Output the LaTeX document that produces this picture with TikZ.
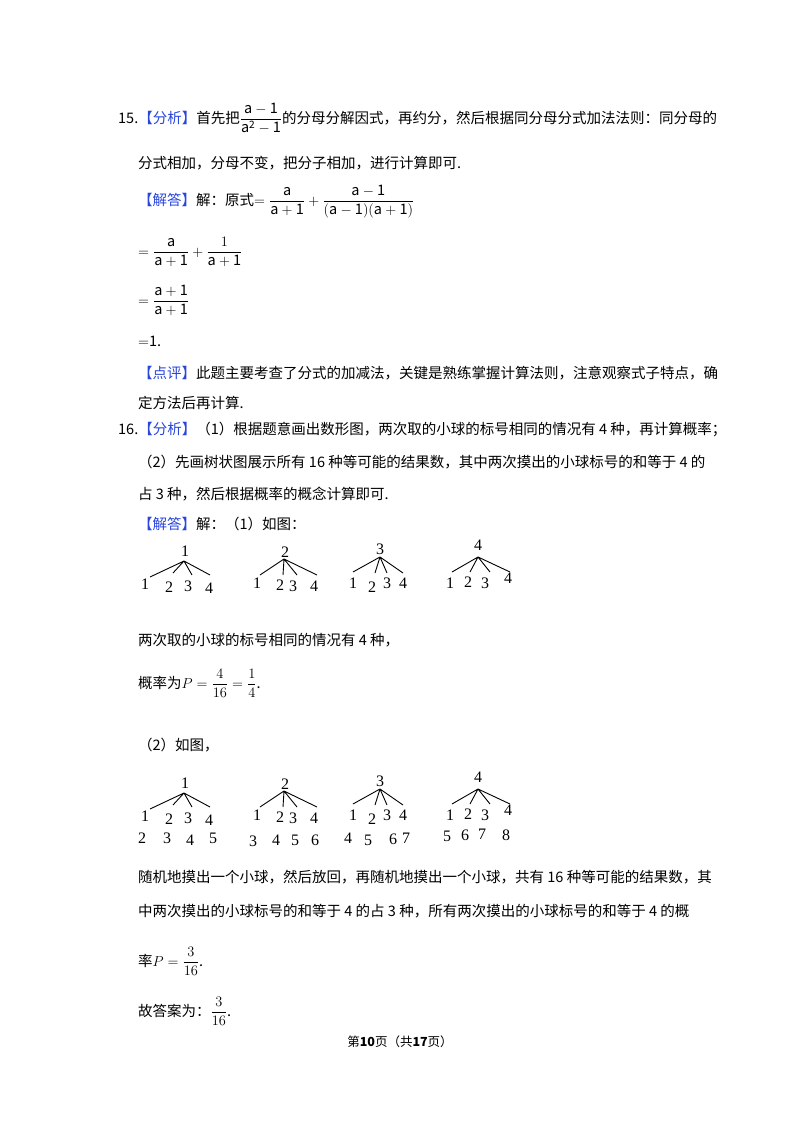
\documentclass[tikz,border=0pt]{standalone}
\usepackage{fontspec}
\setmainfont{Noto Sans CJK SC}
\newfontfamily\serif{Liberation Serif}
\usepackage{amsmath}
\definecolor{tagblue}{RGB}{40,70,220}
\newcommand{\tg}[1]{\textcolor{tagblue}{【#1】}}
\tikzset{
  txt/.style={anchor=base west,inner sep=0pt,font=\fontsize{14.5}{16}\selectfont},
  num/.style={inner sep=0pt,font=\fontsize{16}{18}\selectfont\serif},
  br/.style={line width=0.9pt}
}
\begin{document}
\begin{tikzpicture}[x=1pt,y=-1pt]
\useasboundingbox (0,0) rectangle (800,1132);
\fill[white] (0,0) rectangle (800,1132);
\node[txt] (l1) at (118,123) {15.\tg{分析}首先把$\dfrac{\mathrm{a-1}}{\mathrm{a^2-1}}$的分母分解因式，再约分，然后根据同分母分式加法法则：同分母的};
\node[txt] (l2) at (138,168) {分式相加，分母不变，把分子相加，进行计算即可.};
\node[txt] (l3) at (138,205) {\tg{解答}解：原式$=\dfrac{\mathrm{a}}{\mathrm{a+1}}+\dfrac{\mathrm{a-1}}{\mathrm{(a-1)(a+1)}}$};
\node[txt] (l4) at (138,256) {$=\dfrac{\mathrm{a}}{\mathrm{a+1}}+\dfrac{1}{\mathrm{a+1}}$};
\node[txt] (l5) at (138,305) {$=\dfrac{\mathrm{a+1}}{\mathrm{a+1}}$};
\node[txt] (l6) at (138,346) {$=$1.};
\node[txt] (l7) at (138,378) {\tg{点评}此题主要考查了分式的加减法，关键是熟练掌握计算法则，注意观察式子特点，确};
\node[txt] (l8) at (138,408) {定方法后再计算.};
\node[txt] (l9) at (118,434) {16.\tg{分析}（1）根据题意画出数形图，两次取的小球的标号相同的情况有 4 种，再计算概率；};
\node[txt] (l10) at (138,467) {（2）先画树状图展示所有 16 种等可能的结果数，其中两次摸出的小球标号的和等于 4 的};
\node[txt] (l11) at (138,499) {占 3 种，然后根据概率的概念计算即可.};
\node[txt] (l12) at (138,529) {\tg{解答}解：（1）如图：};
\node[txt] (l13) at (138,645) {两次取的小球的标号相同的情况有 4 种，};
\node[txt] (l14) at (138,688) {概率为$P=\dfrac{4}{16}=\dfrac{1}{4}$.};
\node[txt] (l15) at (138,750) {（2）如图，};
\node[txt] (l16) at (138,882) {随机地摸出一个小球，然后放回，再随机地摸出一个小球，共有 16 种等可能的结果数，其};
\node[txt] (l17) at (138,916) {中两次摸出的小球标号的和等于 4 的占 3 种，所有两次摸出的小球标号的和等于 4 的概};
\node[txt] (l18) at (138,966) {率$P=\dfrac{3}{16}$.};
\node[txt] (l19) at (138,1016) {故答案为：$\dfrac{3}{16}$.};
\node[inner sep=0pt,font=\fontsize{12.5}{14}\selectfont] (ft) at (400,1042) {第\textbf{10}页（共\textbf{17}页）};
\foreach \dy/\s in {0/a,232/b}{
\begin{scope}[yshift=-\dy]
 \node[num] (\s r1) at (185,551) {1};
 \coordinate (\s p1) at (184,561);
 \draw[br] (\s p1) -- (150,577) (\s p1) -- (173,573) (\s p1) -- (192,575) (\s p1) -- (210,575);
 \node[num] at (145,584) {1};\node[num] at (169,587) {2};\node[num] at (188,586) {3};\node[num] at (209,588) {4};
 \node[num] (\s r2) at (285,552) {2};
 \coordinate (\s p2) at (284,559);
 \draw[br] (\s p2) -- (260,575) (\s p2) -- (283,575) (\s p2) -- (297,575) (\s p2) -- (317,575);
 \node[num] at (257,583) {1};\node[num] at (280,585) {2};\node[num] at (293,586) {3};\node[num] at (314,586) {4};
 \node[num] (\s r3) at (380,549) {3};
 \coordinate (\s p3) at (380,557);
 \draw[br] (\s p3) -- (353,572) (\s p3) -- (375,573) (\s p3) -- (387,573) (\s p3) -- (403,573);
 \node[num] at (353,583) {1};\node[num] at (372,587) {2};\node[num] at (387,583) {3};\node[num] at (403,583) {4};
 \node[num] (\s r4) at (478,545) {4};
 \coordinate (\s p4) at (478,557);
 \draw[br] (\s p4) -- (452,572) (\s p4) -- (470,572) (\s p4) -- (490,572) (\s p4) -- (510,572);
 \node[num] at (450,583) {1};\node[num] at (468,582) {2};\node[num] at (485,583) {3};\node[num] at (508,578) {4};
\end{scope}}
\foreach \x/\y/\t in {142/838/2,167/838/3,190/840/4,213/838/5,253/841/3,276/840/4,295/840/5,315/840/6,348/838/4,368/840/5,393/839/6,406/838/7,447/836/5,465/835/6,482/834/7,506/835/8}
 \node[num] at (\x,\y) {\t};
\end{tikzpicture}
\end{document}
